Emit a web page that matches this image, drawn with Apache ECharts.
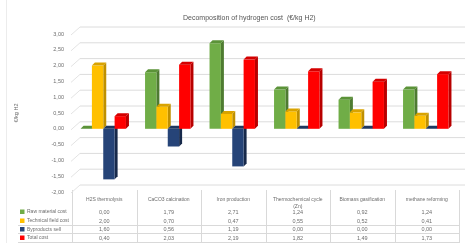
<!DOCTYPE html>
<html lang="en">
<head>
    <meta charset="UTF-8">
    <title>Decomposition of hydrogen cost</title>
    <script src="https://cdn.jsdelivr.net/npm/echarts@6/dist/echarts.min.js"></script>
    <style>
        html, body { margin: 0; padding: 0; background: #fff; }
        #charts { width: 475px; height: 243px; }
    </style>
</head>
<body>
<div id="charts"></div>
<script>
    // data
    var categories = ['H2S thermolysis', 'CaCO3 calcination', 'Iron production', 'Thermochemical cycle\n(Zn)', 'Biomass gasification', 'methane reforming'];
    var seriesNames = ['Raw material cost', 'Technical field cost', 'Byproducts sell', 'Total cost'];
    var rawMaterial = [0.00, 1.79, 2.71, 1.24, 0.92, 1.24];
    var technical = [2.00, 0.70, 0.47, 0.55, 0.52, 0.41];
    var byproducts = [-1.60, -0.56, -1.19, 0.00, 0.00, 0.00];
    var totalCost = [0.40, 2.03, 2.19, 1.82, 1.49, 1.73];
    var yTicks = [-2, -1.5, -1, -0.5, 0, 0.5, 1, 1.5, 2, 2.5, 3];

    var allSeries = [rawMaterial, technical, byproducts, totalCost];
    // front / side / top colours
    var colors = [
        ['#70ad47', '#4e7b31', '#5b9338'],
        ['#ffc000', '#bf9000', '#d9a300'],
        ['#264478', '#17294a', '#1e375f'],
        ['#ff0000', '#b80000', '#d40000']
    ];
    var txt = '#6d6d6d';
    var font = '"Liberation Sans", Arial, sans-serif';

    function fmt(v) {
        return Math.abs(v).toFixed(2).replace('.', ',');
    }

    var chart = echarts.init(document.getElementById('charts'));

    function barItem(si) {
        return function (params, api) {
            var cat = api.value(0);
            var v = api.value(1);
            var p = api.coord([cat, v]);
            var z = api.coord([cat, 0]);
            var band = api.size([1, 0])[0];
            var w = band * 0.176;
            var d = 3;
            var x0 = p[0] - 2 * w - 1 + si * w;
            var yTop = Math.min(p[1], z[1]);
            var yBot = Math.max(p[1], z[1]);
            var c = colors[si];
            return {
                type: 'group',
                children: [
                    {type: 'polygon', shape: {points: [[x0 + w, yTop], [x0 + w + d, yTop - d], [x0 + w + d, yBot - d], [x0 + w, yBot]]}, style: {fill: c[1]}},
                    {type: 'rect', shape: {x: x0, y: yTop, width: w, height: yBot - yTop}, style: {fill: c[0]}},
                    {type: 'polygon', shape: {points: [[x0, yTop], [x0 + d, yTop - d], [x0 + w + d, yTop - d], [x0 + w, yTop]]}, style: {fill: c[2]}}
                ]
            };
        };
    }

    // back wall grid lines, shifted for the 3d look
    function wallItem(params, api) {
        var y = api.coord([0, api.value(1)])[1];
        var cs = params.coordSys;
        return {
            type: 'group',
            children: [
                {type: 'line', shape: {x1: cs.x - 1, y1: y + 1, x2: cs.x + 8, y2: y - 7}, style: {stroke: '#e3e3e3', lineWidth: 1}},
                {type: 'line', shape: {x1: cs.x + 8, y1: y - 7, x2: cs.x + cs.width + 6, y2: y - 7}, style: {stroke: '#dcdcdc', lineWidth: 1}}
            ]
        };
    }

    var series = [{
        type: 'custom',
        silent: true,
        clip: false,
        z: 1,
        renderItem: wallItem,
        data: yTicks.map(function (t) { return [0, t]; })
    }];
    allSeries.forEach(function (vals, si) {
        series.push({
            name: seriesNames[si],
            type: 'custom',
            clip: false,
            z: 2 + si,
            renderItem: barItem(si),
            data: vals.map(function (v, i) { return [i, v]; })
        });
    });

    var option = {
        animation: false,
        title: {
            text: 'Decomposition of hydrogen cost  (\u20ac/kg H2)',
            left: 178,
            top: 10,
            textStyle: {fontSize: 7, fontWeight: 'normal', color: '#555', fontFamily: font}
        },
        grid: {left: 72, right: 16, top: 34, bottom: 51},
        xAxis: {
            type: 'category',
            data: categories,
            axisLine: {show: false},
            axisTick: {show: false},
            splitLine: {show: false},
            axisLabel: {interval: 0, hideOverlap: false, fontSize: 5, color: txt, fontFamily: font, margin: 4, lineHeight: 7, verticalAlign: 'top'}
        },
        yAxis: {
            type: 'value',
            min: -2,
            max: 3,
            interval: 0.5,
            axisLine: {show: false},
            axisTick: {show: false},
            splitLine: {show: false},
            axisLabel: {
                fontSize: 5.5, color: txt, fontFamily: font, margin: 8,
                formatter: function (v) { return (v < 0 ? '-' : '') + fmt(v); }
            }
        },
        series: series
    };
    chart.setOption(option);

    // data table under the chart
    var rowY = [212, 221, 229.5, 238];
    var graphic = [];
    var band = chart.convertToPixel({xAxisIndex: 0}, 1) - chart.convertToPixel({xAxisIndex: 0}, 0);
    var x0 = chart.convertToPixel({xAxisIndex: 0}, 0) - band / 2;
    for (var k = 0; k <= categories.length; k++) {
        var xx = Math.round(x0 + k * band) + 0.5;
        graphic.push({type: 'line', silent: true, shape: {x1: xx, y1: 190, x2: xx, y2: 243}, style: {stroke: '#d9d9d9', lineWidth: 1}});
    }
    [225.5, 233.5, 242.5].forEach(function (y) {
        graphic.push({type: 'line', silent: true, shape: {x1: 18, y1: y, x2: x0 + categories.length * band, y2: y}, style: {stroke: '#d9d9d9', lineWidth: 1}});
    });
    seriesNames.forEach(function (name, si) {
        graphic.push({type: 'rect', silent: true, shape: {x: 20, y: rowY[si] - 2.5, width: 4.5, height: 4.5}, style: {fill: colors[si][0]}});
        graphic.push({type: 'text', silent: true, x: 27, y: rowY[si], style: {text: name, fontSize: 5, fill: txt, fontFamily: font, verticalAlign: 'middle'}});
        allSeries[si].forEach(function (v, i) {
            graphic.push({
                type: 'text', silent: true,
                x: chart.convertToPixel({xAxisIndex: 0}, i), y: rowY[si],
                style: {text: fmt(v), fontSize: 5.5, fill: txt, fontFamily: font, align: 'center', verticalAlign: 'middle'}
            });
        });
    });
    graphic.push({
        type: 'text', silent: true, x: 16, y: 113, rotation: Math.PI / 2,
        style: {text: '\u20ac/kg H2', fontSize: 5.5, fill: txt, fontFamily: font, align: 'center', verticalAlign: 'middle'}
    });
    graphic.push({type: 'line', silent: true, shape: {x1: 6.5, y1: 0, x2: 6.5, y2: 243}, style: {stroke: '#ececec', lineWidth: 1}});

    chart.setOption({graphic: graphic});
</script>
</body>
</html>
